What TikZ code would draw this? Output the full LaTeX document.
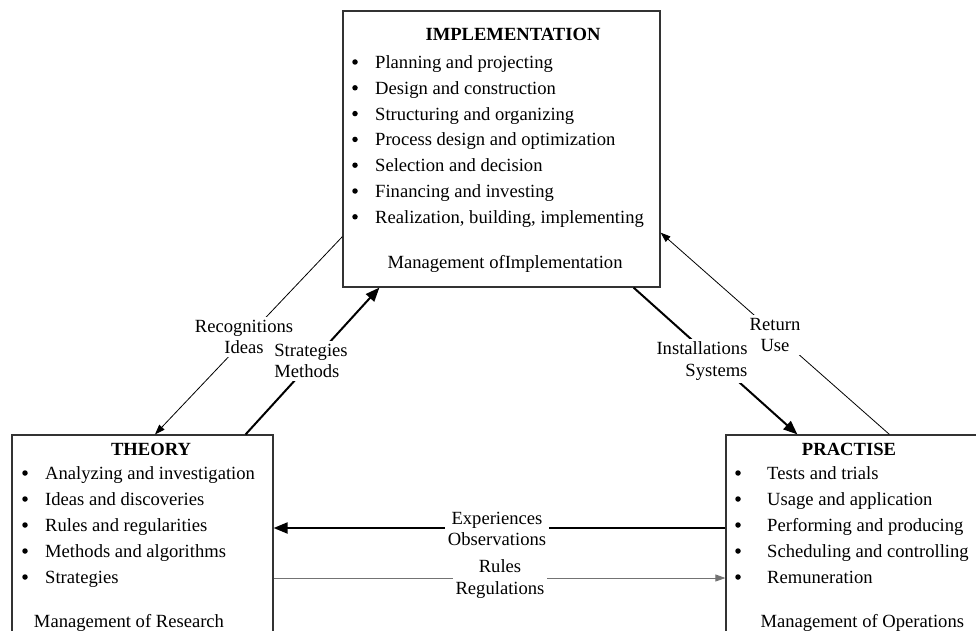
\documentclass[tikz,border=0pt]{standalone}
\usepackage{fontspec}
\setmainfont{Liberation Serif}
\usetikzlibrary{arrows.meta}

\tikzset{
  panel/.style={rectangle, draw=black!80, line width=1.2pt},
  entry/.style={anchor=west, inner sep=0pt, text height=0.7em, text depth=0.2em},
  dot/.style={circle, fill=black, inner sep=0pt, minimum size=5.5pt},
  heading/.style={font=\fontsize{18.6}{22}\selectfont\bfseries, inner sep=0pt},
  tag/.style={fill=white, inner sep=3pt, font=\fontsize{18.6}{21.5}\selectfont},
  weakflow/.style={-{Triangle[length=10pt, width=7pt]}, line width=0.8pt},
  strongflow/.style={-{Triangle[length=14pt, width=11pt]}, line width=2pt},
}

\begin{document}
\begin{tikzpicture}[x=1pt, y=-1pt, font=\fontsize{18.6}{22}\selectfont]

    \useasboundingbox (0,0) rectangle (976,631);
    \clip (0,0) rectangle (976,631);

    % the three boxes
    \node[panel,
          minimum width = 317pt,
          minimum height = 276pt] (impl) at (501.5,149) {};
    \node[heading] (implhead) at (513,34) {IMPLEMENTATION};
    \foreach \txt [count=\i from 0] in {Planning and projecting,
        Design and construction, Structuring and organizing,
        Process design and optimization, Selection and decision,
        Financing and investing, {Realization, building, implementing}} {
      \node[dot] (impldot-\i) at (355,62+25.8*\i) {};
      \node[entry] (implitem-\i) at (375,66+25.8*\i) {\txt};
    }
    \node (implfoot) at (505,264) {Management ofImplementation};

    \node[panel,
          minimum width = 261pt,
          minimum height = 225pt] (theory) at (142.5,547.5) {};
    \node[heading] (theoryhead) at (151,449) {THEORY};
    \foreach \txt [count=\i from 0] in {Analyzing and investigation,
        Ideas and discoveries, Rules and regularities,
        Methods and algorithms, Strategies} {
      \node[dot] (theorydot-\i) at (25,473+26*\i) {};
      \node[entry] (theoryitem-\i) at (45,477+26*\i) {\txt};
    }
    \node (theoryfoot) at (129,623) {Management of Research};

    \node[panel,
          minimum width = 269pt,
          minimum height = 225pt] (practise) at (860.5,547.5) {};
    \node[heading] (practisehead) at (849,449) {PRACTISE};
    \foreach \txt [count=\i from 0] in {Tests and trials,
        Usage and application, Performing and producing,
        Scheduling and controlling, Remuneration} {
      \node[dot] (practisedot-\i) at (738,473+26*\i) {};
      \node[entry] (practiseitem-\i) at (767,477+26*\i) {\txt};
    }
    \node[anchor=west] (practisefoot) at (757,623) {Management of Operations};

    % flows between the boxes
    \draw[weakflow] ([yshift=51pt]impl.south west) -- ([xshift=12.5pt]theory.north);
    \draw[strongflow] ([xshift=-28pt]theory.north east) -- ([xshift=37pt]impl.south west);
    \draw[strongflow] ([xshift=-27pt]impl.south east) -- ([xshift=72pt]practise.north west);
    \draw[weakflow] ([xshift=164pt]practise.north west) -- ([yshift=55pt]impl.south east);
    \draw[strongflow] ([yshift=19.5pt]practise.west) -- ([yshift=19.5pt]theory.east);
    \draw[weakflow, draw=black!55, fill=black!80] ([yshift=-30.5pt]theory.east) -- ([yshift=-30.5pt]practise.west);

    \node[tag, align=center] (recog) at (244,337) {Recognitions\\Ideas};
    \node[tag, align=left] (strat) at (311,361) {Strategies\\Methods};
    \node[tag, align=right] (inst) at (702,361) {Installations\\Systems};
    \node[tag, align=center] (ret) at (775,335) {Return\\Use};
    \node[tag, align=center] (exper) at (497,529) {Experiences\\Observations};
    \node[tag, align=center] (rules) at (500,579) {Rules\\Regulations};

\end{tikzpicture}
\end{document}
